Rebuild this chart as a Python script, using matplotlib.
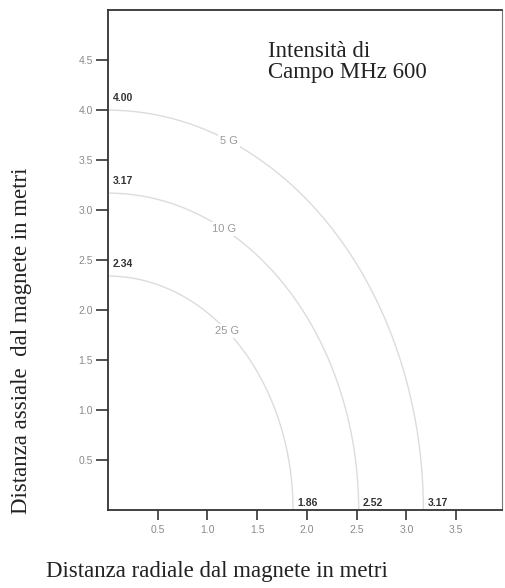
import numpy as np
import matplotlib.pyplot as plt

# field strength contours: radial / axial extent in metres
field_labels = ["5 G", "10 G", "25 G"]
radial_extent = [3.17, 2.52, 1.86]
axial_extent = [4.00, 3.17, 2.34]
radial_text = ["3.17", "2.52", "1.86"]
axial_text = ["4.00", "3.17", "2.34"]

x_ticks = [0.5, 1.0, 1.5, 2.0, 2.5, 3.0, 3.5]
y_ticks = [0.5, 1.0, 1.5, 2.0, 2.5, 3.0, 3.5, 4.0, 4.5]

serif = "Liberation Serif"
sans = "Liberation Sans"

fig = plt.figure(figsize=(5.06, 5.88), dpi=100)
ax = fig.add_axes([0.2134, 0.1327, 0.7786, 0.850])

label_angle = [67.5, 62.5, 50.0]
t = np.linspace(0, np.pi / 2, 300)
for name, a, b, ang in zip(field_labels, radial_extent, axial_extent, label_angle):
    ax.plot(a * np.cos(t), b * np.sin(t), color="#dcdcdc", lw=1.0, zorder=1)
    r = np.radians(ang)
    ax.text(a * np.cos(r), b * np.sin(r), name, fontsize=8, family=sans,
            color="#9a9a9a", ha="center", va="center", zorder=2,
            bbox=dict(facecolor="white", edgecolor="none", pad=1.5))

for val, txt in zip(axial_extent, axial_text):
    ax.text(0.05, val + 0.12, txt, fontsize=7.5, family=sans, weight="bold",
            color="#333333", ha="left", va="center")
for val, txt in zip(radial_extent, radial_text):
    ax.text(val + 0.04, 0.07, txt, fontsize=7.5, family=sans, weight="bold",
            color="#333333", ha="left", va="center")

ax.set_xlim(0, 3.96)
ax.set_ylim(0, 5.0)
ax.set_xticks(x_ticks)
ax.set_yticks(y_ticks)
ax.set_xticklabels([f"{v:.1f}" for v in x_ticks])
ax.set_yticklabels([f"{v:.1f}" for v in y_ticks])
ax.tick_params(axis="y", direction="out", length=9, width=1.2, pad=2,
               labelsize=7.5, labelcolor="#8a8a8a", color="#333333")
ax.tick_params(axis="x", direction="out", length=7, width=1.2, pad=4,
               labelsize=7.5, labelcolor="#8a8a8a", color="#333333")
for lab in ax.get_xticklabels() + ax.get_yticklabels():
    lab.set_family(sans)

for side in ["left", "bottom", "top"]:
    ax.spines[side].set_linewidth(1.3)
    ax.spines[side].set_color("#333333")
ax.spines["right"].set_linewidth(0.8)
ax.spines["right"].set_color("#777777")

fig.text(268 / 506, 1 - 41 / 588, "Intensità di\nCampo MHz 600", family=serif,
         fontsize=16.5, color="#222222", ha="left", va="top", linespacing=1.0)

fig.text(217 / 506, 1 - 572 / 588, "Distanza radiale dal magnete in metri",
         family=serif, fontsize=16.5, color="#222222", ha="center", va="center")
fig.text(22 / 506, 1 - 341 / 588, "Distanza assiale  dal magnete in metri",
         family=serif, fontsize=16.5, color="#222222", ha="center", va="center",
         rotation=90)

fig.savefig("out.png", dpi=100)
